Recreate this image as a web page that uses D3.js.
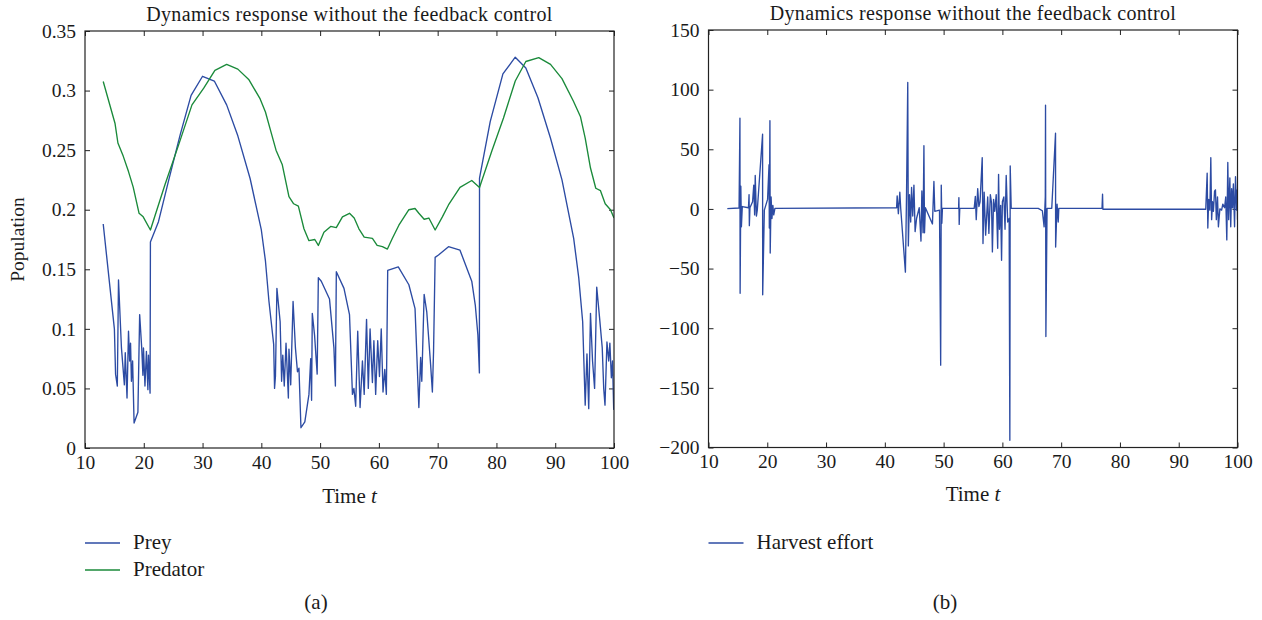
<!DOCTYPE html>
<html><head><meta charset="utf-8">
<script src="https://cdn.jsdelivr.net/npm/d3@7"></script>
<style>
body{margin:0;background:#fff}
svg{display:block}
text{font-family:"Liberation Serif","DejaVu Serif",serif;fill:#1a1a1a}
</style>
</head><body><svg id="c" width="1262" height="620"></svg>
<script>
// ---------- data ----------
const chartTitle = "Dynamics response without the feedback control";
const xTicks = [10,20,30,40,50,60,70,80,90,100];
const popTicks = [0,0.05,0.1,0.15,0.2,0.25,0.3,0.35];
const effortTicks = [-200,-150,-100,-50,0,50,100,150];

const preyT = [13.1,15.0,15.2,15.5,15.7,16.2,16.7,16.85,17.15,17.4,17.6,17.75,17.9,18.1,18.35,19.0,19.3,19.65,19.85,19.95,20.2,20.45,20.7,20.8,21.07,21.13,22.5,24.2,26.2,28.05,30.0,32.0,34.1,36.0,38.1,40.0,40.7,41.3,42.1,42.25,42.4,42.65,43.2,43.45,43.65,43.9,44.2,44.6,44.7,45.0,45.4,45.8,46.15,46.4,46.74,47.4,48.1,48.4,48.55,48.67,49.05,49.5,49.7,50.2,51.6,52.35,52.6,52.76,54.06,55.0,55.5,55.75,56.05,56.4,56.8,57.2,57.5,57.9,58.2,58.5,58.9,59.15,59.45,59.8,60.1,60.4,60.7,61.0,61.27,61.5,63.3,65.1,66.15,66.8,67.1,67.3,67.7,68.15,68.8,69.1,69.3,69.57,70.14,71.84,73.8,75.8,76.4,76.84,77.1,77.12,78.94,81.1,83.2,85.0,87.06,89.2,91.15,93.14,94.0,94.67,95.1,95.4,95.7,96.0,96.35,96.7,97.06,97.55,98.0,98.25,98.47,98.8,99.1,99.3,99.55,99.75,99.95];
const preyV = [0.188,0.100,0.062,0.052,0.141,0.084,0.053,0.080,0.042,0.098,0.073,0.088,0.056,0.073,0.021,0.030,0.112,0.084,0.061,0.084,0.052,0.081,0.049,0.078,0.046,0.173,0.190,0.224,0.263,0.296,0.312,0.308,0.288,0.262,0.226,0.183,0.157,0.123,0.087,0.050,0.060,0.134,0.106,0.056,0.078,0.052,0.088,0.042,0.083,0.053,0.123,0.084,0.064,0.067,0.017,0.022,0.045,0.075,0.040,0.113,0.095,0.062,0.143,0.140,0.125,0.084,0.052,0.148,0.134,0.112,0.045,0.050,0.035,0.098,0.034,0.073,0.045,0.108,0.050,0.100,0.055,0.090,0.045,0.090,0.060,0.100,0.047,0.066,0.045,0.149,0.152,0.137,0.117,0.034,0.076,0.056,0.129,0.114,0.070,0.047,0.081,0.160,0.162,0.169,0.166,0.140,0.120,0.095,0.063,0.2265,0.274,0.314,0.328,0.319,0.294,0.260,0.225,0.176,0.143,0.106,0.036,0.079,0.033,0.113,0.073,0.050,0.135,0.109,0.084,0.050,0.036,0.089,0.073,0.088,0.059,0.073,0.032];

const predT = [13.1,15.1,15.6,16.5,17.4,18.2,19.2,19.9,21.13,23.6,25.9,28.2,30.2,32.1,34.1,36.0,37.9,39.8,40.7,41.6,42.5,43.55,44.7,45.5,46.3,47.25,48.1,49.1,49.7,50.65,51.8,52.75,53.8,55.0,55.8,56.6,57.5,58.9,59.7,60.6,61.45,62.3,63.4,65.1,66.15,66.8,67.7,68.5,69.57,70.8,71.84,73.8,75.8,77.12,79.2,81.2,83.2,85.0,87.2,89.2,91.15,93.1,94.3,95.1,96.0,96.9,97.7,98.5,99.4,100.0];
const predV = [0.3076,0.2726,0.256,0.245,0.232,0.219,0.197,0.194,0.183,0.221,0.254,0.288,0.302,0.317,0.322,0.318,0.309,0.293,0.282,0.266,0.250,0.238,0.211,0.205,0.203,0.184,0.174,0.175,0.170,0.181,0.186,0.185,0.194,0.197,0.193,0.184,0.177,0.176,0.170,0.169,0.167,0.176,0.187,0.200,0.201,0.197,0.192,0.193,0.183,0.194,0.204,0.2187,0.2245,0.2187,0.249,0.277,0.308,0.3244,0.3277,0.322,0.310,0.291,0.278,0.260,0.235,0.218,0.216,0.205,0.200,0.193];

const effortT = [13.2,15.2,15.35,15.38,15.5,15.6,15.75,16.8,16.9,16.95,17.05,17.5,17.7,17.85,17.95,18.15,18.3,19.2,19.22,19.5,20.05,20.3,20.35,20.45,20.5,20.65,20.8,20.95,21.1,21.3,42.0,42.1,42.3,42.55,42.7,43.5,43.7,43.9,44.0,44.2,44.4,44.55,44.75,44.95,45.15,45.4,45.85,46.15,46.3,46.5,46.65,46.75,46.9,48.1,48.35,48.5,49.3,49.5,49.6,49.7,49.8,52.55,52.6,52.65,52.75,55.2,55.4,55.55,55.8,56.0,56.2,56.57,56.7,56.9,57.15,57.5,57.7,57.95,58.15,58.3,58.5,58.7,58.95,59.2,59.35,59.5,59.7,59.86,60.0,60.25,60.45,60.65,60.9,61.15,61.27,61.33,61.5,66.1,66.8,67.1,67.3,67.34,67.4,67.6,68.4,69.04,69.06,69.3,69.5,69.6,76.95,77.04,77.1,94.6,94.84,94.95,95.1,95.3,95.46,95.6,95.75,95.9,96.1,96.25,96.4,96.6,96.75,97.0,97.3,97.5,97.8,98.0,98.18,98.35,98.5,98.7,98.85,99.0,99.15,99.3,99.5,99.66,99.85,99.95,100.0];
const effortV = [0.3,0.8,76,-70.7,19,-15,2,1,12,-14,1,6,20,-5,28,-6,-1,62.6,-72,-1,8,37,-16,74,-37,10,-8,3,-5,0.5,1,11,-4,14,0.5,-53,15,106,-31,12,-11,18,-6,20,-19,-8,1,-27,15,-20,53,-20,1,-12.6,23,-2,-1,-131,20,-12,0.5,0.5,9.5,-13,0.5,0.5,10.5,-9,17,2,6,43,-29,14,-22,10,-20.5,12,5,-36,8,-2,12,-33,29,-17,3,-43,6,10,-17,28,-11,-8,-194,36,0.5,0.5,-1.5,-15,10,87,-107,0.5,0.5,63.5,-32,4,-11,0.5,0.5,12.3,-0.3,-0.3,30,-16,8,-1,43,-9,6,-2,15,16,-9,10,-15,0,-1,4,1,10,-26,39,-9,26,-15,17,1,21,-15,27,-1,16,-9];

// ---------- layout ----------
const BLUE = "#2c4ba3", GREEN = "#1a8a3a";
const svg = d3.select("#c");
const FS = 19.5, TFS = 20, LFS = 21;

function panel(opts){
  const {x0,x1,y0,y1,yDomain,yTicks,yFmt,series,legend,xlabelY,tag,tagX,ylabel} = opts;
  const x = d3.scaleLinear().domain([10,100]).range([x0,x1]);
  const y = d3.scaleLinear().domain(yDomain).range([y1,y0]);
  const g = svg.append("g");
  const cid = "clip"+tag;
  svg.append("clipPath").attr("id",cid).append("rect")
     .attr("x",x0).attr("y",y0).attr("width",x1-x0).attr("height",y1-y0);

  const ax = (sel,fn)=>{ sel.call(fn); sel.select(".domain").remove();
    sel.selectAll(".tick line").attr("stroke","#222").attr("stroke-width",1);
    sel.selectAll("text").attr("font-size",FS).attr("font-family",'"Liberation Serif","DejaVu Serif",serif').attr("fill","#1a1a1a"); };
  g.append("g").attr("transform",`translate(0,${y1})`)
   .call(s=>ax(s,d3.axisBottom(x).tickValues(xTicks).tickSize(-5).tickPadding(7).tickFormat(d3.format("d"))));
  g.append("g").attr("transform",`translate(0,${y0})`)
   .call(s=>ax(s,d3.axisTop(x).tickValues(xTicks).tickSize(-5).tickFormat("")));
  g.append("g").attr("transform",`translate(${x0},0)`)
   .call(s=>ax(s,d3.axisLeft(y).tickValues(yTicks).tickSize(-5).tickPadding(9).tickFormat(yFmt)));
  g.append("g").attr("transform",`translate(${x1},0)`)
   .call(s=>ax(s,d3.axisRight(y).tickValues(yTicks).tickSize(-5).tickFormat("")));

  series.forEach(sr=>{
    const pts = sr.t.map((t,i)=>[t,sr.v[i]]);
    g.append("path").datum(pts).attr("clip-path",`url(#${cid})`)
     .attr("fill","none").attr("stroke",sr.color).attr("stroke-width",1.35)
     .attr("stroke-linejoin","round")
     .attr("d",d3.line().x(d=>x(d[0])).y(d=>y(d[1])));
  });

  g.append("rect").attr("x",x0).attr("y",y0).attr("width",x1-x0).attr("height",y1-y0)
   .attr("fill","none").attr("stroke","#222").attr("stroke-width",1.2);

  g.append("text").attr("x",(x0+x1)/2).attr("y",y0-10).attr("text-anchor","middle")
   .attr("font-size",TFS).attr("letter-spacing","0.35px").text(chartTitle);

  const xl = g.append("text").attr("x",(x0+x1)/2).attr("y",xlabelY).attr("text-anchor","middle").attr("font-size",LFS);
  xl.append("tspan").text("Time ");
  xl.append("tspan").attr("font-style","italic").text("t");

  if(ylabel){
    g.append("text").attr("transform",`translate(${ylabel.x},${(y0+y1)/2}) rotate(-90)`)
     .attr("text-anchor","middle").attr("font-size",FS).text(ylabel.text);
  }

  legend.forEach((l,i)=>{
    const ly = 543 + i*27;
    g.append("line").attr("x1",x0).attr("x2",x0+35).attr("y1",ly).attr("y2",ly)
     .attr("stroke",l.color).attr("stroke-width",1.3);
    g.append("text").attr("x",x0+48).attr("y",ly+6).attr("font-size",LFS).text(l.label);
  });

  g.append("text").attr("x",tagX).attr("y",609).attr("text-anchor","middle").attr("font-size",LFS).text(`(${tag})`);
}

panel({x0:85,x1:614,y0:31,y1:448,yDomain:[0,0.35],yTicks:popTicks,yFmt:d3.format("~g"),
  series:[{t:preyT,v:preyV,color:BLUE},{t:predT,v:predV,color:GREEN}],
  legend:[{label:"Prey",color:BLUE},{label:"Predator",color:GREEN}],
  xlabelY:503,tag:"a",tagX:316,ylabel:{x:24,text:"Population"}});

panel({x0:708.5,x1:1237.5,y0:30,y1:447.5,yDomain:[-200,150],yTicks:effortTicks,yFmt:d3.format("d"),
  series:[{t:effortT,v:effortV,color:BLUE}],
  legend:[{label:"Harvest effort",color:BLUE}],
  xlabelY:501,tag:"b",tagX:945,ylabel:null});
</script>
</body></html>
